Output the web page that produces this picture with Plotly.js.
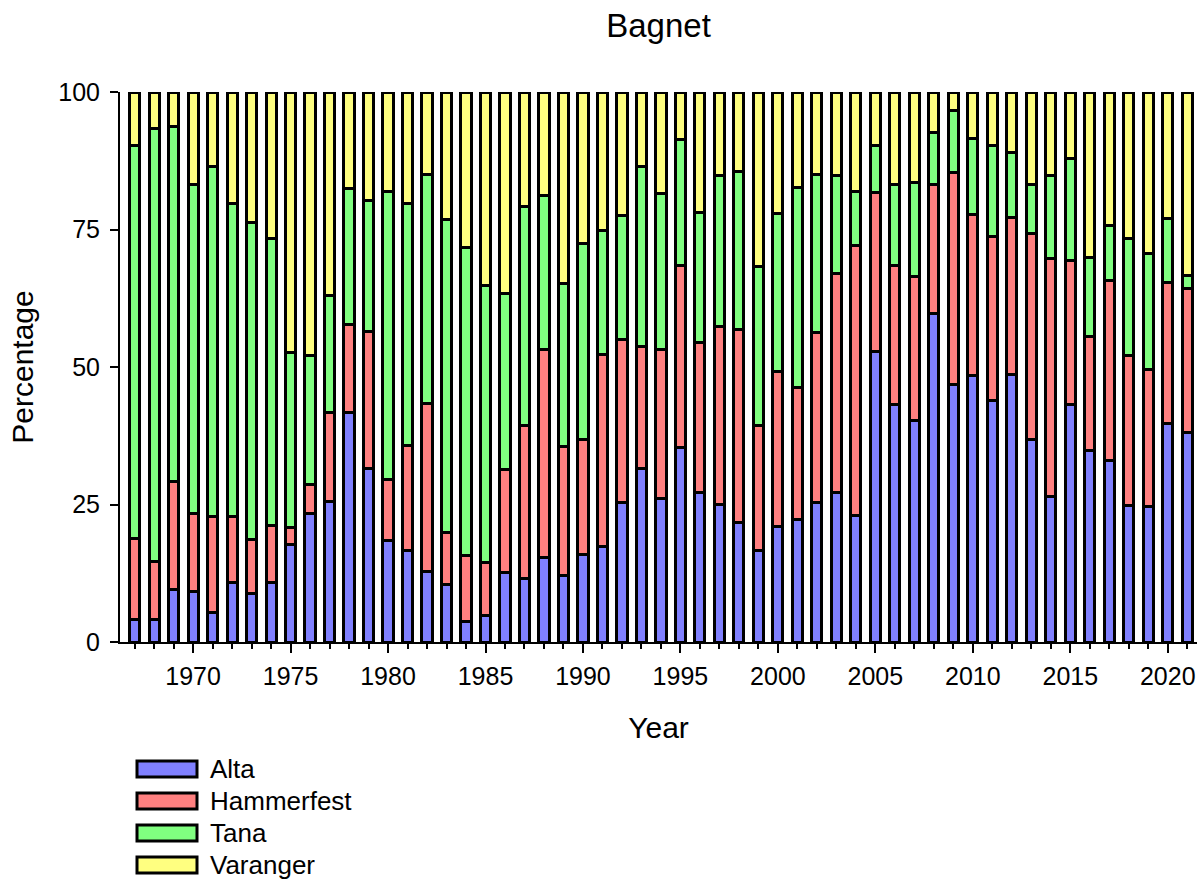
<!DOCTYPE html>
<html>
<head>
<meta charset="utf-8">
<script src="https://cdn.plot.ly/plotly-3.0.1.min.js"></script>
<style>
  html, body { margin: 0; padding: 0; background: #ffffff; }
  #chart { width: 1203px; height: 883px; }
</style>
</head>
<body>
<div id="chart"></div>
<script>
var years = [1967, 1968, 1969, 1970, 1971, 1972, 1973, 1974, 1975, 1976,
             1977, 1978, 1979, 1980, 1981, 1982, 1983, 1984, 1985, 1986,
             1987, 1988, 1989, 1990, 1991, 1992, 1993, 1994, 1995, 1996,
             1997, 1998, 1999, 2000, 2001, 2002, 2003, 2004, 2005, 2006,
             2007, 2008, 2009, 2010, 2011, 2012, 2013, 2014, 2015, 2016,
             2017, 2018, 2019, 2020, 2021];

var alta = [4.1, 4.1, 9.5, 9.1, 5.3, 10.8, 8.9, 10.8, 17.7, 23.4,
            25.6, 41.7, 31.5, 18.4, 16.7, 12.9, 10.5, 3.7, 4.9, 12.7,
            11.6, 15.4, 12.1, 16.0, 17.4, 25.4, 31.5, 26.1, 35.3, 27.1,
            25.0, 21.7, 16.6, 21.0, 22.3, 25.3, 27.2, 23.0, 52.9, 43.1,
            40.2, 59.8, 46.8, 48.4, 43.9, 48.6, 36.9, 26.5, 43.1, 34.9,
            33.0, 24.8, 24.6, 39.7, 38.1];

var hammerfest = [14.8, 10.5, 19.7, 14.2, 17.5, 12.0, 9.7, 10.4, 3.2, 5.2,
                  16.1, 16.1, 25.0, 11.1, 19.1, 30.4, 9.5, 12.1, 9.5, 18.6,
                  27.8, 37.8, 23.4, 20.8, 34.8, 29.6, 22.3, 27.1, 33.1, 27.3,
                  32.3, 35.1, 22.8, 28.2, 24.0, 31.0, 39.8, 49.1, 28.8, 25.3,
                  26.2, 23.3, 38.6, 29.3, 29.8, 28.6, 37.3, 43.2, 26.3, 20.6,
                  32.7, 27.3, 25.0, 25.6, 26.1];

var tana = [71.4, 78.8, 64.5, 59.9, 63.7, 57.0, 57.6, 52.2, 31.8, 23.5,
            21.3, 24.7, 23.8, 52.4, 44.0, 41.7, 56.8, 56.0, 50.5, 32.1,
            39.7, 27.9, 29.6, 35.6, 22.7, 22.5, 32.7, 28.4, 22.9, 23.7,
            27.6, 28.7, 28.9, 28.7, 36.4, 28.7, 17.8, 9.8, 8.6, 14.7,
            17.2, 9.6, 11.3, 13.9, 16.6, 11.8, 9.0, 15.2, 18.6, 14.4,
            10.0, 21.3, 21.1, 11.7, 2.4];

var varanger = [9.7, 6.6, 6.3, 16.8, 13.5, 20.2, 23.8, 26.6, 47.3, 47.9,
                37.0, 17.5, 19.7, 18.1, 20.2, 15.0, 23.2, 28.2, 35.1, 36.6,
                20.9, 18.9, 34.9, 27.6, 25.1, 22.5, 13.5, 18.4, 8.7, 21.9,
                15.1, 14.5, 31.7, 22.1, 17.3, 15.0, 15.2, 18.1, 9.7, 16.9,
                16.4, 7.3, 3.3, 8.4, 9.7, 11.0, 16.8, 15.1, 12.0, 30.1,
                24.3, 26.6, 29.3, 23.0, 33.4];

var seriesNames = ['Alta', 'Hammerfest', 'Tana', 'Varanger'];
var seriesValues = [alta, hammerfest, tana, varanger];
var seriesColors = ['#8080ff', '#ff8080', '#80ff80', '#ffff80'];

var yTicks = [0, 25, 50, 75, 100];

var FONT = 'Liberation Sans, Arial, Helvetica, sans-serif';

var traces = seriesNames.map(function (name, i) {
  return {
    type: 'bar',
    name: name,
    x: years,
    y: seriesValues[i],
    width: 0.52,
    marker: { color: seriesColors[i], line: { color: '#000000', width: 3 } },
    showlegend: false,
    hoverinfo: 'x+y+name'
  };
});

// Custom legend (wide swatches like the reference)
var plotL = 120, plotR = 1197, plotT = 92, plotB = 642;
var pw = plotR - plotL, ph = plotB - plotT;
function px2x(p) { return (p - plotL) / pw; }
function py2y(p) { return (plotB - p) / ph; }

var shapes = [];
var annotations = [];
seriesNames.forEach(function (name, i) {
  var yc = 769 + 32 * i;
  shapes.push({
    type: 'rect', xref: 'paper', yref: 'paper',
    x0: px2x(137), x1: px2x(197), y0: py2y(yc + 8), y1: py2y(yc - 8),
    fillcolor: seriesColors[i], line: { color: '#000000', width: 3 }
  });
  annotations.push({
    xref: 'paper', yref: 'paper', x: px2x(208), y: py2y(yc),
    xanchor: 'left', yanchor: 'middle', showarrow: false,
    text: name, font: { family: FONT, size: 26, color: '#000000' }
  });
});

var layout = {
  width: 1203,
  height: 883,
  margin: { l: plotL, r: 1203 - plotR, t: plotT, b: 883 - plotB, pad: 0 },
  paper_bgcolor: '#ffffff',
  plot_bgcolor: '#ffffff',
  font: { family: FONT, color: '#000000', size: 24 },
  barmode: 'stack',
  showlegend: false,
  title: {
    text: 'Bagnet',
    font: { family: FONT, size: 33, color: '#000000' },
    x: 0.5, xref: 'paper', xanchor: 'center',
    y: 1 - 25 / 883, yref: 'container', yanchor: 'middle'
  },
  xaxis: {
    range: [1966.25, 2021.5],
    tickmode: 'linear', tick0: 1970, dtick: 5,
    ticks: 'outside', ticklen: 9, tickwidth: 2, tickcolor: '#000000',
    showline: true, linewidth: 2, linecolor: '#000000',
    showgrid: false, zeroline: false,
    tickfont: { family: FONT, size: 25, color: '#000000' },
    ticklabelstandoff: 2,
    minor: { tick0: 1967, dtick: 1, ticks: 'outside', ticklen: 5, tickwidth: 2, tickcolor: '#000000', showgrid: false },
    title: { text: 'Year', font: { family: FONT, size: 30, color: '#000000' }, standoff: 28 },
    automargin: false,
    fixedrange: true
  },
  yaxis: {
    range: [0, 100],
    tickmode: 'array', tickvals: yTicks, ticktext: yTicks.map(String),
    ticks: 'outside', ticklen: 8, tickwidth: 2, tickcolor: '#000000',
    showline: true, linewidth: 2, linecolor: '#000000',
    showgrid: false, zeroline: false,
    tickfont: { family: FONT, size: 25, color: '#000000' },
    ticklabelstandoff: 5,
    title: { text: 'Percentage', font: { family: FONT, size: 30, color: '#000000' }, standoff: 16 },
    automargin: false,
    fixedrange: true
  },
  shapes: shapes,
  annotations: annotations
};

Plotly.newPlot('chart', traces, layout, { displayModeBar: false, staticPlot: true });
</script>
</body>
</html>
